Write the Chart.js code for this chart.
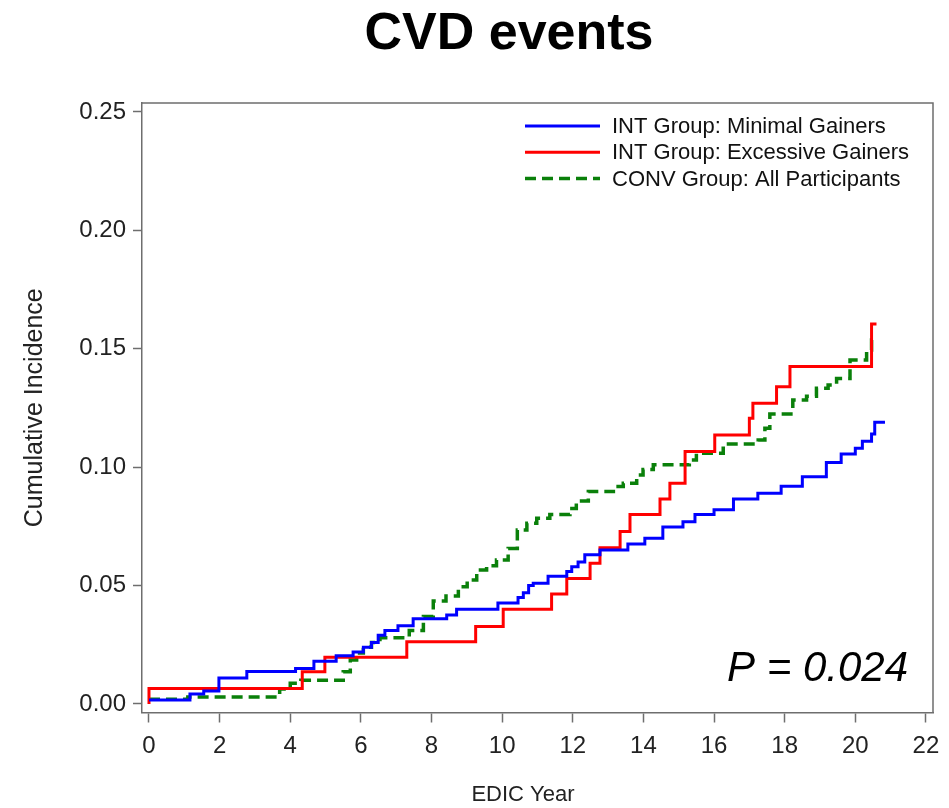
<!DOCTYPE html>
<html>
<head>
<meta charset="utf-8">
<title>CVD events</title>
<script src="https://cdn.jsdelivr.net/npm/chart.js@4.4.1/dist/chart.umd.min.js"></script>
<style>
    html, body { margin: 0; padding: 0; background: #fff; }
    #chartWrap { width: 949px; height: 808px; }
</style>
</head>
<body>
<div id="chartWrap"><canvas id="cvdChart" width="949" height="808"></canvas></div>
<script>
// Step times (EDIC year) and the cumulative incidence reached at each step
const minimalYears = [0, 1.16, 1.55, 1.98, 2.77, 4.15, 4.67, 5.3, 5.78, 6.07, 6.3, 6.49, 6.68, 7.05, 7.48, 8.43, 8.71, 9.88, 10.45, 10.6, 10.75, 10.88, 11.3, 11.83, 11.97, 12.15, 12.34, 12.77, 13.56, 14.04, 14.55, 15.12, 15.46, 16.0, 16.55, 17.24, 17.9, 18.5, 19.18, 19.6, 20.0, 20.2, 20.46, 20.55, 20.84];
const minimalIncidence = [0.0017, 0.0042, 0.0055, 0.011, 0.0137, 0.015, 0.018, 0.0204, 0.022, 0.024, 0.026, 0.029, 0.031, 0.033, 0.036, 0.0376, 0.040, 0.0426, 0.045, 0.047, 0.050, 0.051, 0.054, 0.056, 0.058, 0.060, 0.063, 0.065, 0.0676, 0.070, 0.0747, 0.077, 0.080, 0.082, 0.0866, 0.089, 0.092, 0.096, 0.102, 0.1056, 0.108, 0.111, 0.114, 0.119, 0.119];

const excessiveYears = [0, 0, 4.34, 4.98, 7.3, 9.25, 10.03, 11.4, 11.83, 12.49, 12.77, 13.34, 13.62, 14.47, 14.75, 15.18, 16.02, 17.0, 17.1, 17.77, 18.15, 20.46, 20.6];
const excessiveIncidence = [0, 0.0065, 0.0136, 0.0197, 0.0263, 0.0327, 0.040, 0.0464, 0.053, 0.0594, 0.066, 0.0728, 0.080, 0.0866, 0.0932, 0.1066, 0.1136, 0.1207, 0.127, 0.134, 0.1425, 0.1605, 0.1605];

const convYears = [0, 1.1, 3.7, 4.0, 4.3, 5.5, 5.7, 5.88, 6.07, 6.3, 6.54, 7.0, 7.37, 7.77, 8.05, 8.41, 8.76, 9.01, 9.28, 9.56, 9.84, 10.17, 10.43, 10.7, 10.98, 11.35, 11.92, 12.1, 12.44, 13.15, 13.43, 13.81, 13.99, 14.28, 15.3, 15.5, 16.26, 17.25, 17.44, 17.58, 18.23, 18.62, 18.9, 19.23, 19.47, 19.85, 20.32, 20.46, 20.6];
const convIncidence = [0.002, 0.003, 0.0063, 0.0088, 0.010, 0.0136, 0.0186, 0.0215, 0.024, 0.026, 0.028, 0.028, 0.031, 0.037, 0.0435, 0.0456, 0.0495, 0.0524, 0.0566, 0.0584, 0.0608, 0.0657, 0.0735, 0.0763, 0.0784, 0.080, 0.0826, 0.0857, 0.0897, 0.0918, 0.0932, 0.0967, 0.099, 0.101, 0.103, 0.1059, 0.1098, 0.1115, 0.1164, 0.1225, 0.1284, 0.130, 0.1333, 0.1347, 0.1375, 0.1453, 0.1495, 0.1537, 0.1537];

const seriesLabels = ['INT Group: Minimal Gainers', 'INT Group: Excessive Gainers', 'CONV Group: All Participants'];
const xTickValues = [0, 2, 4, 6, 8, 10, 12, 14, 16, 18, 20, 22];
const yTickValues = [0, 0.05, 0.10, 0.15, 0.20, 0.25];
const chartTitle = 'CVD events';
const xAxisTitle = 'EDIC Year';
const yAxisTitle = 'Cumulative Incidence';
const pValueText = 'P = 0.024';

const FONT = "'Liberation Sans', Arial, Helvetica, sans-serif";
const FRAME_COLOR = '#6e6e6e';

function toPoints(years, values) {
    return years.map((x, i) => ({ x: x, y: values[i] }));
}

// Box round the plot, title, x label, legend block and p-value
const decorPlugin = {
    id: 'decor',
    afterDraw(chart) {
        const ctx = chart.ctx;
        const area = chart.chartArea;

        ctx.save();
        ctx.strokeStyle = FRAME_COLOR;
        ctx.lineWidth = 1.5;
        ctx.beginPath();
        ctx.moveTo(area.left, area.top);
        ctx.lineTo(area.right, area.top);
        ctx.lineTo(area.right, area.bottom);
        ctx.stroke();

        // title
        ctx.fillStyle = '#000';
        ctx.font = `bold 52px ${FONT}`;
        ctx.textAlign = 'center';
        ctx.textBaseline = 'alphabetic';
        ctx.fillText(chartTitle, 509, 49);

        // x axis label sits a little left of the plot centre
        ctx.font = `22px ${FONT}`;
        ctx.textBaseline = 'middle';
        ctx.fillStyle = '#222';
        ctx.fillText(xAxisTitle, 523, 795);

        // legend, top right inside the plot
        const lineX = area.right - 408;
        ctx.font = `22px ${FONT}`;
        ctx.textAlign = 'left';
        chart.data.datasets.forEach((ds, i) => {
            const y = area.top + 23 + i * 26.3;
            ctx.strokeStyle = ds.borderColor;
            ctx.lineWidth = ds.borderWidth;
            ctx.setLineDash(ds.borderDash || []);
            ctx.beginPath();
            ctx.moveTo(lineX, y);
            ctx.lineTo(lineX + 75, y);
            ctx.stroke();
            ctx.setLineDash([]);
            ctx.fillStyle = '#111';
            ctx.fillText(ds.label, lineX + 87, y + 1);
        });

        // p-value
        ctx.font = `italic 42px ${FONT}`;
        ctx.textAlign = 'right';
        ctx.textBaseline = 'alphabetic';
        ctx.fillStyle = '#000';
        ctx.fillText(pValueText, area.right - 25, area.bottom - 32);
        ctx.restore();
    }
};

const ctx = document.getElementById('cvdChart').getContext('2d');

new Chart(ctx, {
    type: 'line',
    data: {
        datasets: [
            {
                label: seriesLabels[0],
                data: toPoints(minimalYears, minimalIncidence),
                borderColor: '#0000ff',
                borderWidth: 3,
                stepped: 'before',
                pointRadius: 0,
                fill: false,
            },
            {
                label: seriesLabels[1],
                data: toPoints(excessiveYears, excessiveIncidence),
                borderColor: '#ff0000',
                borderWidth: 3,
                stepped: 'before',
                pointRadius: 0,
                fill: false,
            },
            {
                label: seriesLabels[2],
                data: toPoints(convYears, convIncidence),
                borderColor: '#0a800a',
                borderWidth: 3.5,
                borderDash: [11, 6],
                stepped: 'before',
                pointRadius: 0,
                fill: false,
            }
        ]
    },
    options: {
        responsive: false,
        animation: false,
        layout: {
            padding: { top: 103, right: 16, bottom: 0, left: 0 }
        },
        plugins: {
            legend: { display: false },
            tooltip: { enabled: false },
            title: { display: false }
        },
        scales: {
            x: {
                type: 'linear',
                min: -0.198,
                max: 22.2,
                afterBuildTicks: scale => { scale.ticks = xTickValues.map(v => ({ value: v })); },
                afterFit: scale => { scale.height = 95.5; },
                grid: {
                    drawOnChartArea: false,
                    drawTicks: true,
                    tickLength: 10,
                    tickColor: FRAME_COLOR,
                    tickWidth: 1.5
                },
                border: { display: true, color: FRAME_COLOR, width: 1.5 },
                ticks: {
                    padding: 9,
                    maxRotation: 0,
                    autoSkip: false,
                    color: '#222',
                    font: { family: FONT, size: 24 },
                    callback: v => String(v)
                },
                title: { display: false }
            },
            y: {
                min: -0.00359,
                max: 0.2538,
                afterBuildTicks: scale => { scale.ticks = yTickValues.map(v => ({ value: v })); },
                afterFit: scale => { scale.width = 142; },
                grid: {
                    drawOnChartArea: false,
                    drawTicks: true,
                    tickLength: 9,
                    tickColor: FRAME_COLOR,
                    tickWidth: 1.5
                },
                border: { display: true, color: FRAME_COLOR, width: 1.5 },
                ticks: {
                    padding: 7,
                    color: '#222',
                    font: { family: FONT, size: 24 },
                    callback: v => v.toFixed(2)
                },
                title: {
                    display: true,
                    text: yAxisTitle,
                    color: '#222',
                    font: { family: FONT, size: 25 },
                    padding: { top: 20, bottom: 0 }
                }
            }
        }
    },
    plugins: [decorPlugin]
});
</script>
</body>
</html>
